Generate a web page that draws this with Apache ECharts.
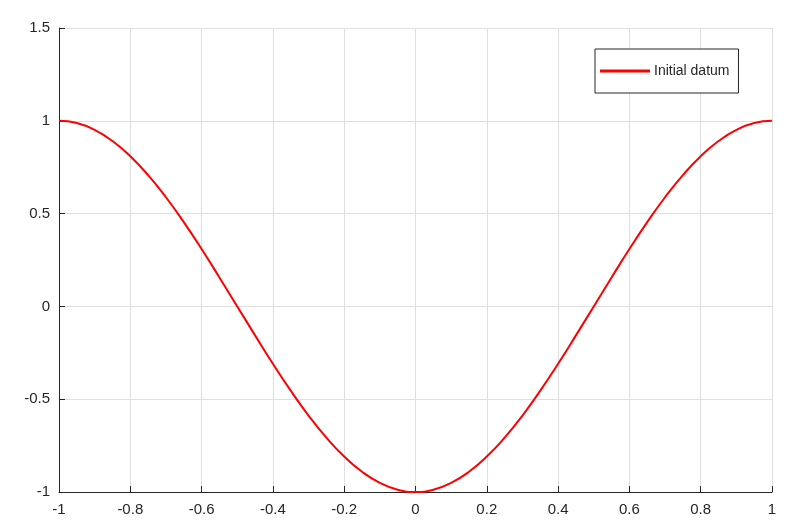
<!DOCTYPE html>
<html>
<head>
<meta charset="utf-8">
<script src="https://cdn.jsdelivr.net/npm/echarts@6/dist/echarts.min.js"></script>
<style>
  html, body { margin: 0; padding: 0; background: #fff; }
</style>
</head>
<body>
<div id="chart" style="width: 800px; height: 530px;"></div>
<script>
// values
var xValues = [-1, -0.95, -0.9, -0.85, -0.8, -0.75, -0.7, -0.65, -0.6, -0.55, -0.5,
  -0.45, -0.4, -0.35, -0.3, -0.25, -0.2, -0.15, -0.1, -0.05, 0,
  0.05, 0.1, 0.15, 0.2, 0.25, 0.3, 0.35, 0.4, 0.45, 0.5,
  0.55, 0.6, 0.65, 0.7, 0.75, 0.8, 0.85, 0.9, 0.95, 1];
var yValues = [1, 0.988, 0.951, 0.891, 0.809, 0.707, 0.588, 0.454, 0.309, 0.156, 0,
  -0.156, -0.309, -0.454, -0.588, -0.707, -0.809, -0.891, -0.951, -0.988, -1,
  -0.988, -0.951, -0.891, -0.809, -0.707, -0.588, -0.454, -0.309, -0.156, 0,
  0.156, 0.309, 0.454, 0.588, 0.707, 0.809, 0.891, 0.951, 0.988, 1];
var seriesName = 'Initial datum';

var points = [];
for (var i = 0; i < xValues.length; i++) {
  points.push([xValues[i], yValues[i]]);
}

var chart = echarts.init(document.getElementById('chart'));

var axisColor = '#262626';
var gridColor = '#dfdfdf';

var option = {
  animation: false,
  textStyle: { fontFamily: 'Liberation Sans, Arial, sans-serif' },
  grid: { left: 59, right: 28, top: 28, bottom: 38 },
  legend: {
    left: 595,
    top: 49,
    orient: 'vertical',
    padding: [14, 5, 14, 5],
    itemWidth: 50,
    itemHeight: 3,
    itemGap: 0,
    icon: 'rect',
    borderColor: '#262626',
    borderWidth: 1,
    backgroundColor: '#fff',
    textStyle: { fontSize: 14, color: '#262626', padding: [0, 4, 0, -1], lineHeight: 16 },
    data: [seriesName]
  },
  xAxis: {
    type: 'value',
    min: -1,
    max: 1,
    interval: 0.2,
    axisLine: { onZero: false, lineStyle: { color: axisColor, width: 1 } },
    axisTick: { inside: true, length: 6, lineStyle: { color: axisColor } },
    axisLabel: { color: axisColor, fontSize: 15, margin: 10 },
    splitLine: { show: true, lineStyle: { color: gridColor, width: 1 } }
  },
  yAxis: {
    type: 'value',
    min: -1,
    max: 1.5,
    interval: 0.5,
    axisLine: { show: true, onZero: false, lineStyle: { color: axisColor, width: 1 } },
    axisTick: { show: true, inside: true, length: 6, lineStyle: { color: axisColor } },
    axisLabel: { color: axisColor, fontSize: 15, margin: 9 },
    splitLine: { show: true, lineStyle: { color: gridColor, width: 1 } }
  },
  series: [
    {
      name: seriesName,
      type: 'line',
      data: points,
      smooth: true,
      symbol: 'none',
      lineStyle: { color: '#ff0000', width: 2 },
      itemStyle: { color: '#ff0000' }
    }
  ]
};

chart.setOption(option);
</script>
</body>
</html>
